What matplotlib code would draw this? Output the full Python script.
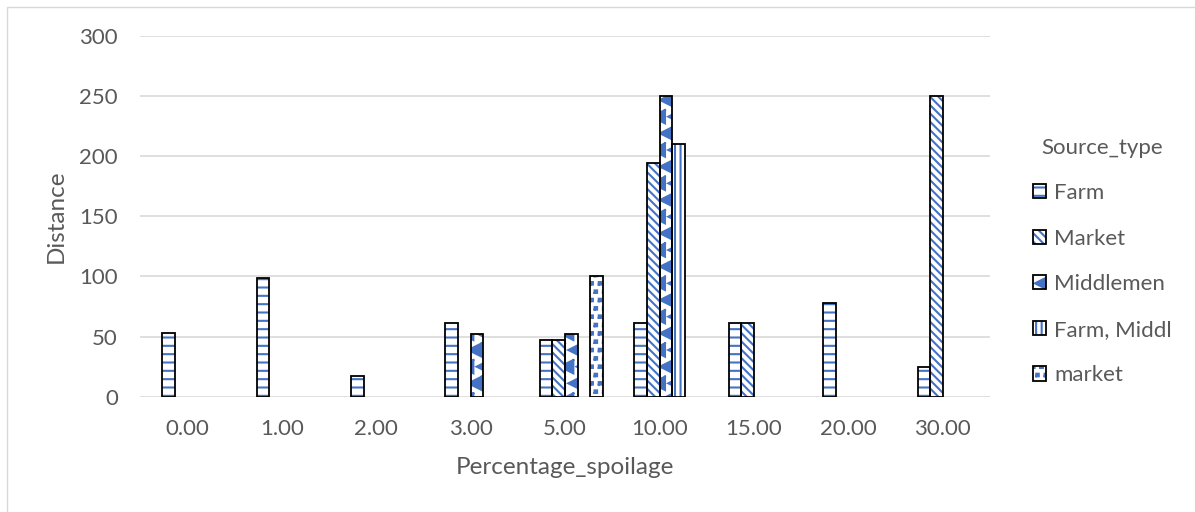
import numpy as np
import matplotlib
matplotlib.use("Agg")
import matplotlib.pyplot as plt
import matplotlib.hatch as mhatch
from matplotlib.path import Path
from matplotlib.patches import Rectangle, Patch

nan = np.nan

categories = ["0.00", "1.00", "2.00", "3.00", "5.00", "10.00", "15.00", "20.00", "30.00"]
series_names = ["Farm", "Market", "Middlemen", "Farm, Middl", "market"]
farm = [53, 99, 17, 61, 47, 61, 61, 78, 25]
market = [nan, nan, nan, nan, 47, 194, 61, nan, 250]
middlemen = [nan, nan, nan, 52, 52, 250, nan, nan, nan]
farm_middl = [nan, nan, nan, nan, nan, 210, nan, nan, nan]
market_lc = [nan, nan, nan, nan, 100, nan, nan, nan, nan]


# filled left-pointing triangles ("<")
class TriangleHatch(mhatch.Shapes):
    filled = True
    size = 0.8

    def __init__(self, hatch, density):
        self.num_rows = hatch.count("<") * density
        self.shape_vertices = np.array([[0.5, 0.5], [-0.5, 0.0], [0.5, -0.5], [0.5, 0.5]])
        self.shape_codes = Path.LINETO * np.ones(4, dtype=Path.code_type)
        self.shape_codes[0] = Path.MOVETO
        super().__init__(hatch, density)


# small filled squares ("s")
class SquareHatch(mhatch.Shapes):
    filled = True
    size = 0.3

    def __init__(self, hatch, density):
        self.num_rows = hatch.count("s") * density
        self.shape_vertices = np.array([[-0.5, -0.5], [0.5, -0.5], [0.5, 0.5], [-0.5, 0.5], [-0.5, -0.5]])
        self.shape_codes = Path.LINETO * np.ones(5, dtype=Path.code_type)
        self.shape_codes[0] = Path.MOVETO
        super().__init__(hatch, density)


mhatch._hatch_types.append(TriangleHatch)
mhatch._hatch_types.append(SquareHatch)

blue = "#4472C4"
grey = "#595959"
hatches = ["--", "\\\\\\\\", "<", "|||", "ss"]
values = [farm, market, middlemen, farm_middl, market_lc]

plt.rcParams["font.family"] = ["Lato", "DejaVu Sans"]
plt.rcParams["hatch.linewidth"] = 1.5

fig = plt.figure(figsize=(11.95, 5.12), dpi=100)
ax = fig.add_axes([0.1172, 0.2252, 0.7113, 0.7045])

x = np.arange(len(categories))
w = 1 / 7.5
for k, (vals, h) in enumerate(zip(values, hatches)):
    pos = x + (k - 1.5) * w
    ax.bar(pos, vals, width=w, color="white", edgecolor=blue, hatch=h, linewidth=0, zorder=2)
    ax.bar(pos, vals, width=w, fill=False, edgecolor="black", linewidth=1.3, zorder=3)

ax.set_xlim(-0.5, len(categories) - 0.5)
ax.set_ylim(0, 300)
ax.set_yticks(range(0, 301, 50))
ax.set_xticks(x)
ax.set_xticklabels(categories)
ax.grid(axis="y", color="#d9d9d9", linewidth=1.2, zorder=0)
ax.set_axisbelow(True)
for s in ax.spines.values():
    s.set_visible(False)
ax.tick_params(length=0, labelsize=16, labelcolor=grey)
ax.tick_params(axis="x", pad=16)
ax.tick_params(axis="y", pad=16)
ax.set_xlabel("Percentage_spoilage", fontsize=17.5, color=grey, labelpad=13)
ax.set_ylabel("Distance", fontsize=17.5, color=grey, labelpad=9)

# legend keys: blue pattern under a black square outline
handles = [(Patch(facecolor="white", edgecolor=blue, hatch=h, linewidth=0),
            Patch(fill=False, edgecolor="black", linewidth=1.3)) for h in hatches]
leg = ax.legend(handles, series_names, title="Source_type", loc="center left",
                bbox_to_anchor=(1.027, 0.375), frameon=False, fontsize=16,
                title_fontsize=16, handlelength=0.6, handleheight=0.6,
                handletextpad=0.35, labelspacing=1.15, labelcolor=grey)
leg.get_title().set_color(grey)

# light chart-area border (left and top edges fall inside the image)
fig.patches.append(Rectangle((0.0059, -0.1), 1.2, 1.0863, transform=fig.transFigure,
                             fill=False, edgecolor="#d9d9d9", linewidth=1))

fig.savefig("out.png", dpi=100)
